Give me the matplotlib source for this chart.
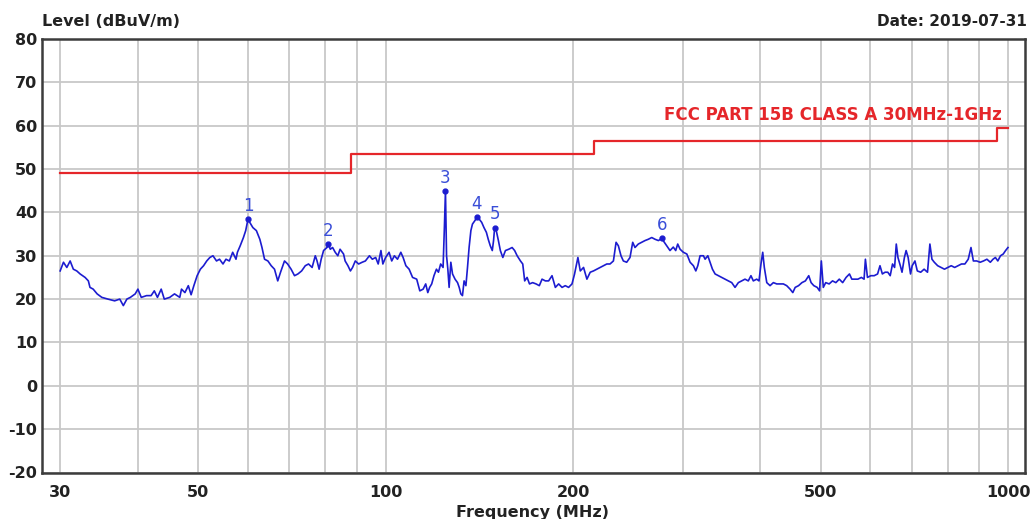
import matplotlib
matplotlib.use("Agg")
import matplotlib.pyplot as plt
from matplotlib.ticker import FixedLocator, FixedFormatter

# ---- data ----
freq_mhz = [
    30.0, 30.37, 30.75, 31.13, 31.5, 31.9, 32.3, 32.9, 33.3, 33.5, 33.9, 34.4, 35.0, 35.8, 36.7,
    37.4, 37.9, 38.4, 38.9, 39.6, 40.0, 40.5, 41.3, 42.0, 42.5, 43.0, 43.6, 44.1, 45.0, 45.8, 46.7,
    47.0, 47.6, 48.2, 48.7, 49.2, 49.8, 50.4, 51.0, 51.6, 52.2, 52.8, 53.5, 54.1, 54.8, 55.4, 56.1,
    56.8, 57.5, 57.8, 58.4, 59.1, 59.6, 60.1, 61.2, 62.0, 62.8, 63.3, 63.9, 64.7, 65.5, 66.3, 67.1,
    67.8, 68.8, 69.6, 70.5, 71.4, 72.3,
    73.3, 74.3, 75.2, 76.2, 77.1, 77.6, 78.2, 78.8, 79.5, 80.5, 80.9, 81.5, 82.2, 83.0, 83.8, 84.5,
    85.6, 86.1, 87.0, 87.8, 88.5, 89.4, 90.5, 91.7, 92.8, 94.2, 95.2, 96.4, 97.3, 98.3, 99.0, 100.0,
    101.3, 102.3, 103.3, 104.5, 105.8, 106.7, 107.8, 109.1, 110.5, 112.2, 113.5,
    114.9, 116.0, 116.9, 117.7, 118.6, 119.6, 120.7, 121.6, 122.6, 123.7, 124.3, 124.8, 125.3, 125.9,
    126.5, 127.3, 128.1, 129.3, 130.5, 131.3, 132.1, 132.9, 133.7, 134.6, 135.4, 136.2, 137.1, 137.9,
    139.3, 140.1, 141.3, 142.7, 143.9, 145.2, 146.2, 147.3, 148.4, 149.1, 149.7, 150.6, 151.8, 152.9,
    154.3, 155.8, 157.7, 159.7, 161.2, 162.7, 164.7, 166.1, 167.3, 168.8, 170.3, 172.3, 174.5, 176.6,
    178.4, 180.6, 182.8, 185.1, 187.4, 189.7, 192.1, 194.4, 196.8, 199.3, 201.2, 202.7, 203.7, 205.5,
    208.0, 210.6, 213.2, 215.8, 218.5, 221.2, 223.9, 226.7, 229.4, 232.3, 234.6, 236.6, 238.9, 241.0,
    244.0, 247.0, 249.5, 251.6, 254.7, 257.9, 261.1, 264.3, 267.7, 271.0, 274.4,
    277.7, 282.9, 286.4, 289.9, 292.5, 294.7, 297.3, 300.9, 304.8, 308.5, 312.3, 315.1, 317.4, 320.1,
    324.1, 326.1, 329.4, 332.2, 335.1, 338.4, 342.5, 346.8, 351.1, 355.4, 359.9, 364.3, 368.8, 373.4,
    378.0, 382.6, 386.4, 389.8, 394.7, 398.1, 401.0, 403.6, 406.0, 409.7, 414.7, 419.8, 425.1, 430.3,
    435.6, 441.0, 446.6, 451.1, 455.1, 460.8, 466.6, 472.6, 478.5, 482.7, 487.6, 493.7, 498.1, 501.3,
    505.0, 509.5, 516.0, 522.5, 529.0, 535.7, 542.5, 549.4, 556.3, 561.2, 566.9, 574.0, 581.3, 587.2,
    590.1, 594.6, 602.0, 609.6, 617.3, 622.8, 628.3, 634.6, 641.1, 646.8, 652.4, 657.4, 661.5, 665.6,
    671.5, 675.7, 681.7, 686.0, 691.2, 697.3, 701.6, 708.8, 715.0, 724.1, 733.2, 742.5, 749.1, 754.8,
    761.4, 771.0, 780.8, 790.6, 800.6, 810.6, 821.0, 831.3, 841.9, 852.6, 863.3, 872.1, 879.8, 890.8,
    902.1, 913.4, 925.0, 936.8, 946.2, 954.5, 963.1, 972.7, 982.6, 991.2, 1000.0,
]
level_dbuv = [
    26.5, 28.5, 27.3, 28.8, 26.9, 26.5, 25.8, 25.0, 24.2, 22.7, 22.3, 21.2, 20.4, 20.0, 19.6,
    20.0, 18.5, 20.0, 20.4, 21.2, 22.3, 20.4, 20.8, 20.8, 21.9, 20.4, 22.3, 20.0, 20.4, 21.2, 20.4,
    22.3, 21.5, 23.1, 21.0, 23.1, 25.4, 26.9, 27.7, 28.8, 29.6, 30.0, 28.8, 29.2, 28.1, 29.2, 28.8,
    30.8, 29.2, 30.8, 32.3, 34.2, 35.8, 38.4, 36.5, 35.8, 33.8, 31.9, 29.2, 28.8, 27.7, 26.9, 24.2,
    26.2, 28.8, 28.1, 26.9, 25.4, 25.8,
    26.5, 27.7, 28.1, 27.3, 30.0, 28.8, 26.9, 29.2, 31.2, 31.9, 32.7, 31.5, 31.9, 30.8, 30.0, 31.5,
    30.4, 28.8, 27.7, 26.5, 27.3, 28.8, 28.1, 28.5, 28.8, 30.0, 29.2, 29.6, 28.1, 31.2, 28.1, 29.6,
    30.8, 28.8, 30.0, 29.2, 30.8, 29.6, 27.7, 26.9, 25.0, 24.6, 21.9,
    22.3, 23.5, 21.5, 22.7, 23.5, 25.4, 26.9, 26.2, 28.1, 27.3, 36.5, 45.0, 30.0, 26.9,
    22.7, 28.5, 25.8, 24.6, 23.8, 22.7, 21.2, 20.8, 24.2, 23.1, 27.3, 31.9, 35.8, 37.3,
    38.2, 39.0, 38.5, 37.7, 36.5, 35.4, 33.8, 32.3, 31.2, 33.5, 36.5, 35.8, 33.5, 31.2,
    29.6, 31.2, 31.5, 31.9, 31.2, 30.0, 28.8, 28.1, 24.2, 25.0, 23.5, 23.8, 23.5, 23.1,
    24.6, 24.2, 24.2, 25.4, 22.7, 23.5, 22.7, 23.1, 22.7, 23.5, 25.8, 28.1, 29.6, 26.5,
    27.3, 24.6, 26.2, 26.5, 26.9, 27.3, 27.7, 28.1, 28.1, 28.8, 33.1, 32.3, 30.0, 28.8,
    28.5, 29.6, 33.1, 31.9, 32.7, 33.1, 33.5, 33.8, 34.2, 33.8, 33.5,
    34.0, 32.3, 31.2, 32.0, 31.2, 32.7, 31.5, 30.8, 30.4, 28.5, 27.7, 26.5, 27.7, 30.0,
    30.0, 29.2, 30.0, 28.5, 26.9, 25.8, 25.4, 25.0, 24.6, 24.2, 23.8, 22.7, 23.8, 24.2,
    24.6, 24.2, 25.4, 24.2, 24.6, 24.2, 28.1, 30.8, 27.3, 23.8, 23.1, 23.8, 23.5, 23.5,
    23.5, 23.1, 22.3, 21.5, 22.7, 23.1, 23.8, 24.2, 25.4, 23.8, 23.1, 22.7, 21.9, 28.8,
    22.7, 23.8, 23.5, 24.2, 23.8, 24.6, 23.8, 25.0, 25.8, 24.6, 24.6, 24.6, 25.0, 24.6,
    29.2, 25.0, 25.4, 25.4, 25.8, 27.7, 25.8, 26.2, 26.2, 25.4, 28.1, 27.3, 32.7, 29.6,
    27.7, 26.2, 29.6, 31.2, 29.6, 25.8, 27.7, 28.8, 26.5, 26.2, 26.9, 26.2, 32.7, 29.2,
    28.5, 27.7, 27.3, 26.9, 27.3, 27.7, 27.3, 27.7, 28.1, 28.1, 29.2, 31.9, 28.8, 28.8,
    28.5, 28.8, 29.2, 28.5, 29.2, 29.6, 28.8, 30.0, 30.4, 31.2, 31.9,
]

limit_edges_mhz = [30, 88, 216, 960, 1000]
limit_levels = [49.0, 53.5, 56.4, 59.5]
limit_name = "FCC PART 15B CLASS A 30MHz-1GHz"

marker_ids = ["1", "2", "3", "4", "5", "6"]
marker_freq = [60.1, 80.9, 124.8, 140.1, 149.7, 277.7]
marker_level = [38.4, 32.7, 45.0, 39.0, 36.5, 34.0]

grid_freqs = [30, 40, 50, 60, 70, 80, 90, 100, 200, 300, 400, 500, 600, 700, 800, 900, 1000]
labeled_freqs = [30, 50, 100, 200, 500, 1000]
y_ticks = [-20, -10, 0, 10, 20, 30, 40, 50, 60, 70, 80]

# ---- figure ----
W, H = 1035, 519
fig = plt.figure(figsize=(W / 100, H / 100), dpi=100)
ax = fig.add_axes([41.5 / W, 1 - 472.5 / H, (1025 - 41.5) / W, (472.5 - 39) / H])

ax.set_xscale("log")
ax.set_xlim(28.0, 1065)
ax.set_ylim(-20, 80)

ax.xaxis.set_major_locator(FixedLocator(grid_freqs))
ax.xaxis.set_major_formatter(FixedFormatter([str(f) if f in labeled_freqs else "" for f in grid_freqs]))
ax.xaxis.set_minor_locator(FixedLocator([]))
ax.set_yticks(y_ticks)
ax.set_yticklabels([str(v) for v in y_ticks])

ax.grid(True, color="#c8c8c8", lw=1.3)
ax.set_axisbelow(True)
ax.tick_params(axis="both", length=0, labelsize=11.5)
ax.tick_params(axis="x", pad=9)
ax.tick_params(axis="y", pad=3)
for lab in ax.get_xticklabels() + ax.get_yticklabels():
    lab.set_fontweight("bold")
    lab.set_color("#222222")
for s in ax.spines.values():
    s.set_color("#3c3c3c")
    s.set_linewidth(1.8)

# limit line
ax.step(limit_edges_mhz, limit_levels + [limit_levels[-1]], where="post",
        color="#e5262a", lw=1.6, zorder=3)
ax.text(978, 60.3, limit_name, color="#e5262a", fontsize=12, fontweight="bold",
        ha="right", va="bottom", transform=ax.transData)

# measured trace
ax.plot(freq_mhz, level_dbuv, color="#1c1cd0", lw=1.2, zorder=4)

# markers
ax.plot(marker_freq, marker_level, "o", color="#1c1cd0", ms=3.5, zorder=5)
for mid, f, l in zip(marker_ids, marker_freq, marker_level):
    ax.annotate(mid, (f, l), xytext=(0, 3), textcoords="offset points",
                ha="center", va="bottom", color="#3a4ed8", fontsize=12, zorder=6)

# header / footer text
fig.text(42 / W, 1 - 22 / H, "Level (dBuV/m)", fontsize=11.5, fontweight="bold",
         color="#222222", ha="left", va="center")
fig.text(1027 / W, 1 - 21 / H, "Date: 2019-07-31", fontsize=11, fontweight="bold",
         color="#222222", ha="right", va="center")
fig.text(533 / W, 1 - 512 / H, "Frequency (MHz)", fontsize=11.5, fontweight="bold",
         color="#222222", ha="center", va="center")

fig.savefig("out.png", dpi=100)
